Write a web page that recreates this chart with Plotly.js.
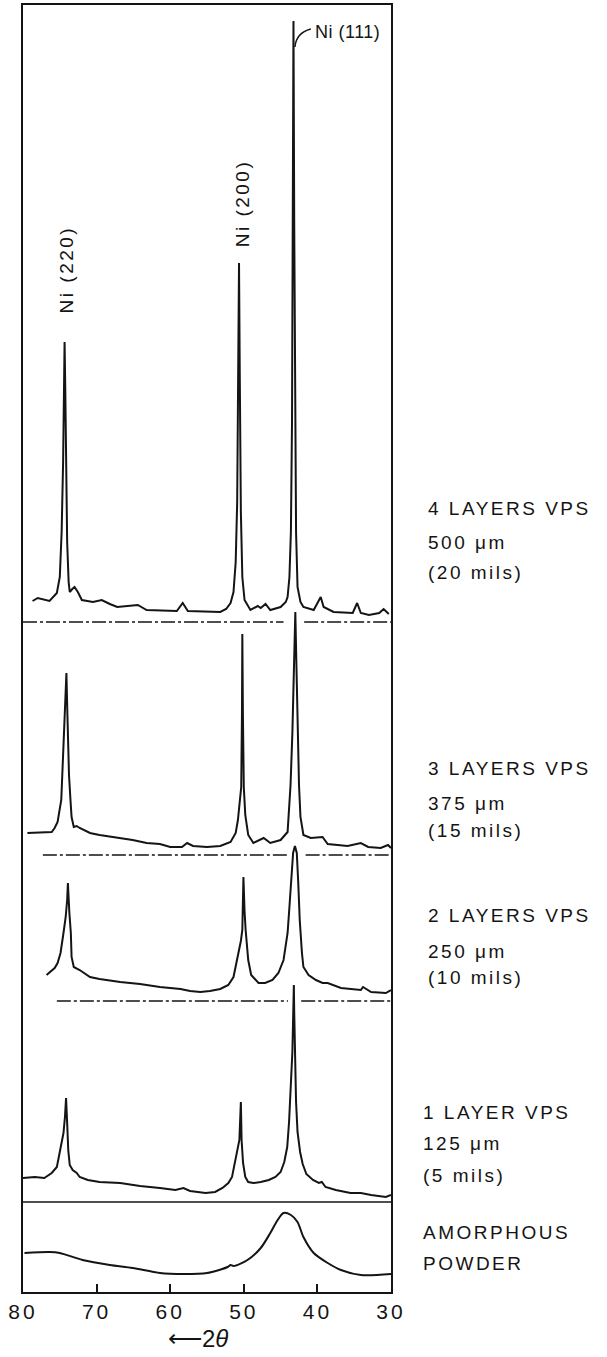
<!DOCTYPE html>
<html>
<head>
<meta charset="utf-8">
<script src="https://cdn.plot.ly/plotly-3.0.1.min.js"></script>
<style>
  html, body { margin: 0; padding: 0; background: #fff; }
  #chart { width: 607px; height: 1357px; }
  .annotation text { letter-spacing: 2.5px; }
  .annotation[data-index="16"] text { letter-spacing: 0.5px; }
  .annotation[data-index="17"] text { letter-spacing: 0px; }
  .xtick text { letter-spacing: 3px; }
</style>
</head>
<body>
<div id="chart"></div>
<script>
// ---- DATA (2θ in degrees, intensity in arbitrary units above each pattern's baseline) ----
const tickValues = [80, 70, 60, 50, 40, 30];
const tickLabels = ["80", "70", "60", "50", "40", "30"];
const xTitle = '⟵2<i>θ</i>';

const sampleNames = ["4 LAYERS VPS", "3 LAYERS VPS", "2 LAYERS VPS", "1 LAYER VPS", "AMORPHOUS POWDER"];
const thickness = ["500 μm", "375 μm", "250 μm", "125 μm", ""];
const thicknessMils = ["(20 mils)", "(15 mils)", "(10 mils)", "(5 mils)", ""];
const peakLabels = ["Ni (220)", "Ni (200)", "Ni (111)"];

// stacking offsets of each pattern
const offset4 = 670, offset3 = 437, offset2 = 291, offset1 = 90, offsetAm = 0;

const twoTheta4 = [78.7, 78.0, 76.4, 75.4, 75.0, 74.75, 74.55, 74.4, 74.35, 74.25, 74.15, 74.0, 73.8, 73.65, 73.3, 73.0, 72.55, 72.0, 70.5, 69.3, 68.2, 67.2, 64.4, 63.2, 59.1, 58.3, 57.6, 53.2, 52.4, 51.8, 51.4, 51.1, 50.9, 50.75, 50.65, 50.55, 50.4, 50.2, 49.9, 49.1, 48.1, 47.7, 47.05, 46.4, 45.0, 44.3, 44.05, 43.8, 43.6, 43.45, 43.35, 43.25, 43.15, 43.05, 42.9, 42.7, 42.55, 42.3, 41.9, 40.5, 39.55, 39.15, 37.8, 35.2, 34.6, 34.1, 33.0, 31.6, 31.0, 30.3];
const int4 =      [21, 24, 21, 29, 45, 90, 160, 230, 280, 230, 140, 80, 40, 30, 33, 35, 30, 22, 20, 22, 18, 15, 17, 12, 11, 19, 11, 10, 13, 19, 30, 60, 120, 250, 359, 250, 110, 45, 22, 12, 16, 14, 18, 12, 15, 20, 25, 45, 90, 200, 400, 601, 400, 200, 90, 35, 29, 20, 15, 12, 25, 15, 10, 9, 19, 9, 7, 9, 13, 8];

const twoTheta3 = [79.4, 77.5, 76.1, 75.7, 75.3, 74.8, 74.6, 74.45, 74.3, 74.1, 74.0, 73.9, 73.75, 73.55, 73.4, 73.1, 72.7, 72.3, 70.9, 69.6, 67.8, 65.1, 63.2, 61.4, 60.0, 58.4, 57.7, 56.9, 55.0, 53.2, 51.8, 51.1, 50.8, 50.55, 50.35, 50.25, 50.2, 50.12, 50.0, 49.8, 49.6, 49.4, 48.7, 47.3, 46.4, 45.0, 44.05, 43.9, 43.65, 43.4, 43.2, 43.0, 42.85, 42.7, 42.5, 42.3, 41.9, 40.9, 39.3, 38.6, 35.9, 34.1, 33.1, 31.4, 30.4, 30.0];
const int3 =      [22, 23, 23, 27, 33, 55, 90, 117, 150, 182, 150, 117, 80, 55, 38, 28, 29, 27, 22, 20, 18, 15, 12, 11, 8, 8, 12, 9, 8, 9, 13, 22, 35, 55, 68, 140, 221, 140, 68, 40, 28, 20, 12, 17, 12, 15, 23, 38, 70, 122, 190, 243, 190, 122, 70, 38, 20, 17, 18, 11, 9, 12, 8, 7, 10, 7];

const twoTheta2 = [76.8, 75.7, 75.3, 74.9, 74.5, 74.2, 74.0, 73.9, 73.7, 73.5, 73.4, 73.1, 72.3, 70.9, 69.6, 66.8, 64.1, 61.4, 58.6, 57.3, 55.9, 54.6, 53.2, 52.1, 51.4, 50.9, 50.4, 50.2, 50.05, 49.9, 49.75, 49.4, 49.0, 48.0, 47.1, 46.1, 45.3, 44.6, 44.05, 43.8, 43.5, 43.3, 43.05, 42.8, 42.6, 42.4, 42.1, 41.9, 41.2, 40.2, 39.3, 38.6, 36.8, 34.1, 33.8, 32.7, 30.7, 30.0];
const int2 =      [26, 33, 38, 48, 68, 84, 101, 118, 88, 68, 44, 34, 31, 24, 22, 19, 17, 14, 12, 10, 9, 10, 12, 16, 24, 41, 60, 71, 124, 90, 71, 41, 26, 18, 18, 21, 28, 41, 68, 94, 128, 148, 155, 148, 118, 81, 48, 34, 26, 21, 18, 18, 13, 11, 14, 9, 8, 11];

const twoTheta1 = [80.0, 78.4, 77.1, 76.1, 75.4, 75.0, 74.7, 74.5, 74.3, 74.15, 74.0, 73.85, 73.65, 73.25, 72.7, 72.3, 71.2, 69.6, 66.8, 64.1, 61.4, 59.3, 58.2, 57.3, 55.2, 53.9, 52.9, 52.1, 51.6, 51.2, 50.9, 50.6, 50.4, 50.3, 50.1, 49.8, 49.4, 48.7, 47.7, 46.6, 45.7, 45.0, 44.5, 44.1, 43.85, 43.6, 43.4, 43.25, 43.2, 43.15, 43.05, 42.9, 42.7, 42.35, 42.0, 41.5, 40.6, 39.8, 39.4, 38.9, 37.5, 35.5, 34.1, 32.7, 30.7, 30.0];
const int1 =      [24, 25, 24, 29, 35, 49, 59, 69, 85, 104, 79, 52, 37, 32, 29, 25, 22, 20, 19, 16, 14, 12, 14, 11, 9, 10, 14, 19, 25, 39, 52, 62, 100, 62, 39, 25, 20, 19, 20, 22, 25, 30, 40, 55, 80, 115, 150, 200, 217, 190, 140, 100, 70, 50, 38, 28, 22, 19, 20, 15, 12, 9, 9, 7, 5, 7];

const twoThetaAm = [79.8, 76.4, 75.0, 71.9, 68.2, 65.1, 61.4, 58.2, 55.0, 52.2, 51.8, 51.4, 49.5, 47.7, 46.4, 45.4, 44.6, 43.6, 42.7, 41.9, 40.5, 38.6, 36.8, 34.1, 30.0];
const intAm =      [39, 40, 39, 32, 27, 24, 19, 18, 19, 25, 27, 26, 32, 44, 59, 72, 79, 77, 70, 55, 39, 29, 22, 17, 18];

// baselines (2θ extents of the drawn zero lines; null = gap where a peak crosses)
const base4X = [80, 44.6, null, 41.8, 30];
const base3X = [77.3, 44.0, null, 41.6, 30];
const base2X = [75.4, 44.0, null, 42.2, 30];
const base1X = [80, 30];

// ---- BUILD ----
const ink = '#141414';
const add = (arr, off) => arr.map(v => v === null ? null : v + off);
const flat = (xs, off) => xs.map(v => v === null ? null : off);

function curve(x, y, off, shape) {
  return { x: x, y: add(y, off), type: 'scatter', mode: 'lines',
           line: { color: ink, width: 2, shape: shape || 'linear', smoothing: 0.8 },
           hoverinfo: 'skip', showlegend: false };
}
function baseline(x, off, dash) {
  return { x: x, y: flat(x, off), type: 'scatter', mode: 'lines', connectgaps: false,
           line: { color: ink, width: 1.5, dash: dash }, hoverinfo: 'skip', showlegend: false };
}

const traces = [
  baseline(base4X, offset4, '14px,3px,3px,3px'),
  baseline(base3X, offset3, '14px,3px,3px,3px'),
  baseline(base2X, offset2, '14px,3px,3px,3px'),
  baseline(base1X, offset1, 'solid'),
  curve(twoTheta4, int4, offset4),
  curve(twoTheta3, int3, offset3),
  curve(twoTheta2, int2, offset2),
  curve(twoTheta1, int1, offset1),
  curve(twoThetaAm, intAm, offsetAm, 'spline')
];

const font = 'Liberation Sans, Arial, sans-serif';
const labelY = [[784, 750, 720], [524, 489, 462], [377, 341, 315], [180, 149, 117], [60, 29]];
const labelX = [1.095, 1.095, 1.095, 1.082, 1.082];
const annotations = [];
for (let i = 0; i < 4; i++) {
  [sampleNames[i], thickness[i], thicknessMils[i]].forEach((t, j) => {
    annotations.push({ text: t, xref: 'paper', yref: 'y', x: labelX[i], y: labelY[i][j],
      xanchor: 'left', yanchor: 'middle', align: 'left', showarrow: false,
      font: { family: font, size: 19, color: ink } });
  });
}
sampleNames[4].split(' ').forEach((t, j) => {
  annotations.push({ text: t, xref: 'paper', yref: 'y', x: labelX[4], y: labelY[4][j],
    xanchor: 'left', yanchor: 'middle', align: 'left', showarrow: false,
    font: { family: font, size: 19, color: ink } });
});
annotations.push({ text: peakLabels[0], x: 74.1, y: 1023, xref: 'x', yref: 'y', textangle: -90,
  showarrow: false, font: { family: font, size: 19, color: ink } });
annotations.push({ text: peakLabels[1], x: 50.2, y: 1089, xref: 'x', yref: 'y', textangle: -90,
  showarrow: false, font: { family: font, size: 19, color: ink } });
annotations.push({ text: peakLabels[2], x: 40.6, y: 1260, xref: 'x', yref: 'y', xanchor: 'left',
  align: 'left', showarrow: false, font: { family: font, size: 18, color: ink } });
// x-axis title placed below the tick labels
annotations.push({ text: xTitle, x: 56.2, y: -47 / 1287, xref: 'x', yref: 'paper',
  xanchor: 'center', yanchor: 'middle', showarrow: false,
  font: { family: font, size: 24, color: ink } });

const layout = {
  width: 607, height: 1357,
  margin: { l: 23, r: 216, t: 5, b: 65 },
  paper_bgcolor: '#fff', plot_bgcolor: '#fff',
  showlegend: false,
  xaxis: {
    range: [80, 30], tickvals: tickValues, ticktext: tickLabels,
    ticks: 'inside', ticklen: 8, tickwidth: 2, tickcolor: ink,
    showline: true, mirror: true, linewidth: 2, linecolor: ink,
    showgrid: false, zeroline: false, automargin: false,
    tickfont: { family: font, size: 21, color: ink },
    title: { text: '' }
  },
  yaxis: {
    range: [0, 1287], showticklabels: false, ticks: '',
    showline: true, mirror: true, linewidth: 2, linecolor: ink,
    showgrid: false, zeroline: false, automargin: false,
    title: { text: '' }
  },
  shapes: [{ type: 'path', xref: 'x', yref: 'y',
    path: 'M 40.9 1263 Q 42.9 1259 43.05 1245',
    line: { color: ink, width: 1.5 } }],
  annotations: annotations
};

Plotly.newPlot('chart', traces, layout, { staticPlot: true, displayModeBar: false });
</script>
</body>
</html>
